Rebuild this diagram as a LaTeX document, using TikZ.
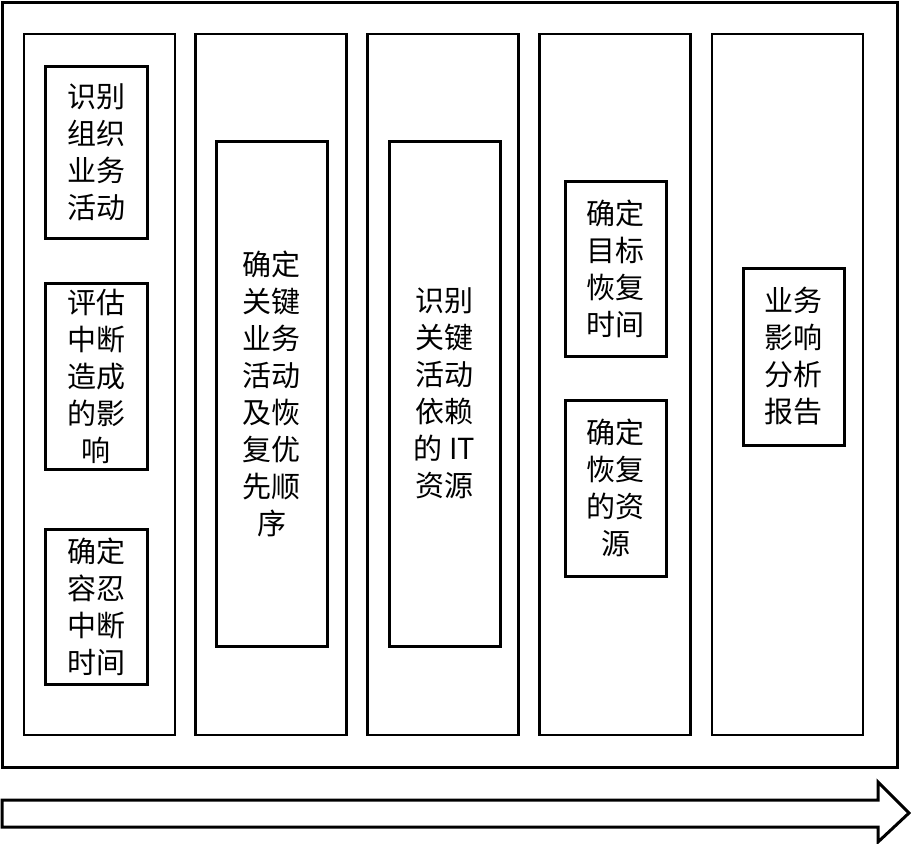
\documentclass[tikz,border=0pt]{standalone}
\usepackage{fontspec}
\newfontfamily\cjk{Noto Sans CJK SC}
\usetikzlibrary{positioning}

\begin{document}
\begin{tikzpicture}[x=1pt, y=-1pt,
  col/.style={draw, line width=2.6pt, inner sep=0pt, minimum width=151pt, minimum height=701pt},
  task/.style={draw, line width=3pt, inner sep=0pt, align=center,
    font=\cjk\fontsize{29}{37}\selectfont, minimum width=102pt}]
\useasboundingbox (0,0) rectangle (911,844);
% outer frame
\draw[line width=3pt] (2,2) rectangle (897,767);
% phases
\node[col] (c1) at (99.5,384.5) {};
\node[col] (c2) at (271,384.5) {};
\node[col] (c3) at (443,384.5) {};
\node[col] (c4) at (615,384.5) {};
\node[col] (c5) at (787.5,384.5) {};
% tasks
\node[task, minimum height=172pt] (t11) at (96,152) {识别\\组织\\业务\\活动};
\node[task, minimum height=186pt] (t12) at (96,376) {评估\\中断\\造成\\的影\\响};
\node[task, minimum height=155pt] (t13) at (96,606.5) {确定\\容忍\\中断\\时间};
\node[task, minimum width=111pt, minimum height=505pt] (t2) at (271.5,393.5) {确定\\关键\\业务\\活动\\及恢\\复优\\先顺\\序};
\node[task, minimum width=111pt, minimum height=505pt] (t3) at (444.5,393.5) {识别\\关键\\活动\\依赖\\的 IT\\资源};
\node[task, minimum width=101pt, minimum height=175pt] (t41) at (615.5,268.5) {确定\\目标\\恢复\\时间};
\node[task, minimum width=101pt, minimum height=176pt] (t42) at (615.5,488) {确定\\恢复\\的资\\源};
\node[task, minimum width=101pt, minimum height=177pt] (t5) at (793.5,356.5) {业务\\影响\\分析\\报告};
% time arrow
\draw[line width=3pt] (2,800) -- (878,800) -- (878,782) -- (909,813) -- (878,842)
  -- (878,827) -- (2,827) -- cycle;
\end{tikzpicture}
\end{document}
